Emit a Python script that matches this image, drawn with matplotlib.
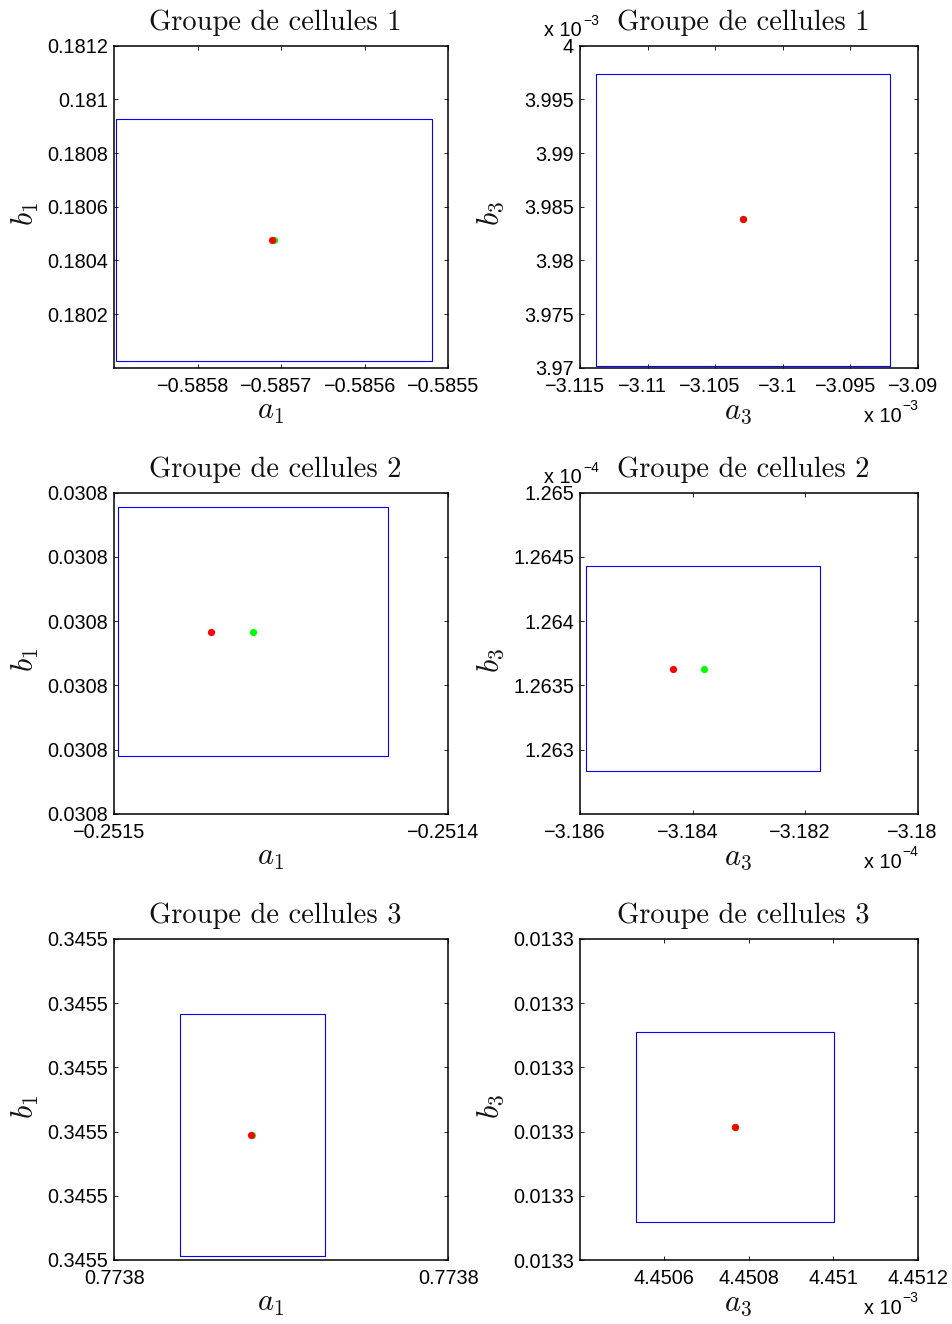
import matplotlib
matplotlib.use("Agg")
import matplotlib.pyplot as plt
from matplotlib.patches import Rectangle
from matplotlib.ticker import FixedLocator, FixedFormatter
from matplotlib.transforms import ScaledTranslation

plt.rcParams['mathtext.fontset'] = 'cm'
plt.rcParams['font.family'] = ['Liberation Sans', 'DejaVu Sans']

W, H = 952, 1324

# ---------------- data ----------------
titles = ["Groupe de cellules 1", "Groupe de cellules 1",
          "Groupe de cellules 2", "Groupe de cellules 2",
          "Groupe de cellules 3", "Groupe de cellules 3"]
xlabels = [r"$a_1$", r"$a_3$", r"$a_1$", r"$a_3$", r"$a_1$", r"$a_3$"]
ylabels = [r"$b_1$", r"$b_3$", r"$b_1$", r"$b_3$", r"$b_1$", r"$b_3$"]

# box: [xmin, xmax, ymin, ymax]
box_1_left = [-0.5858983, -0.5855192, 0.1800257, 0.1809260]
box_1_right = [-3.11383e-3, -3.09206e-3, 3.97019e-3, 3.99736e-3]
box_2_left = [-0.25149898, -0.25141814, 0.03077894, 0.03081777]
box_2_right = [-3.185888e-4, -3.18173e-4, 1.26283e-4, 1.264431e-4]
box_3_left = [0.7737758, 0.7738104, 0.34547067, 0.34550836]
box_3_right = [4.4505334e-3, 4.4510017e-3, 0.01326592, 0.01329551]

# red point (x, y), green point (x, y)
red_pts = [(-0.5857115, 0.1804763), (-3.10292e-3, 3.98381e-3),
           (-0.25147096, 0.0307983), (-3.184348e-4, 1.263629e-4),
           (0.77379274, 0.34548952), (4.4507665e-3, 0.01328072)]
green_pts = [(-0.5857091, 0.1804763), (-3.10292e-3, 3.98381e-3),
             (-0.25145847, 0.0307983), (-3.183802e-4, 1.263629e-4),
             (0.77379298, 0.34548952), (4.4507665e-3, 0.01328072)]

# axis limits
xlims = [(-0.5859, -0.5855), (-3.115e-3, -3.09e-3), (-0.2515, -0.2514),
         (-3.186e-4, -3.18e-4), (0.77376, 0.77384), (4.4504e-3, 4.4512e-3)]
ylims = [(0.1800, 0.1812), (3.97e-3, 4.0e-3), (0.03077, 0.03082),
         (1.2625e-4, 1.265e-4), (0.34547, 0.34552), (0.01326, 0.01331)]

# ticks and tick labels
xticks = [[-0.5858, -0.5857, -0.5856, -0.5855],
          [-3.115e-3, -3.11e-3, -3.105e-3, -3.1e-3, -3.095e-3, -3.09e-3],
          [-0.2515, -0.2514],
          [-3.186e-4, -3.184e-4, -3.182e-4, -3.18e-4],
          [0.77376, 0.77384],
          [4.4506e-3, 4.4508e-3, 4.451e-3, 4.4512e-3]]
xticklabels = [["\u22120.5858", "\u22120.5857", "\u22120.5856", "\u22120.5855"],
               ["\u22123.115", "\u22123.11", "\u22123.105", "\u22123.1", "\u22123.095", "\u22123.09"],
               ["\u22120.2515", "\u22120.2514"],
               ["\u22123.186", "\u22123.184", "\u22123.182", "\u22123.18"],
               ["0.7738", "0.7738"],
               ["4.4506", "4.4508", "4.451", "4.4512"]]
yticks = [[0.1802, 0.1804, 0.1806, 0.1808, 0.1810, 0.1812],
          [3.97e-3, 3.975e-3, 3.98e-3, 3.985e-3, 3.99e-3, 3.995e-3, 4.0e-3],
          [0.03077, 0.03078, 0.03079, 0.03080, 0.03081, 0.03082],
          [1.263e-4, 1.2635e-4, 1.264e-4, 1.2645e-4, 1.265e-4],
          [0.34547, 0.34548, 0.34549, 0.34550, 0.34551, 0.34552],
          [0.01326, 0.01327, 0.01328, 0.01329, 0.01330, 0.01331]]
yticklabels = [["0.1802", "0.1804", "0.1806", "0.1808", "0.181", "0.1812"],
               ["3.97", "3.975", "3.98", "3.985", "3.99", "3.995", "4"],
               ["0.0308"] * 6,
               ["1.263", "1.2635", "1.264", "1.2645", "1.265"],
               ["0.3455"] * 6,
               ["0.0133"] * 6]
# multiplier shown as "x 10^e" : (x exponent, y exponent)
x_exp = [None, -3, None, -4, None, -3]
y_exp = [None, -3, None, -4, None, None]

boxes = [box_1_left, box_1_right, box_2_left, box_2_right, box_3_left, box_3_right]

# ---------------- layout (pixels) ----------------
col_lr = [(114.3, 448.3), (580.0, 917.7)]
row_tb = [(45.7, 367.7), (492.7, 813.7), (939.0, 1260.0)]

fig = plt.figure(figsize=(W / 100, H / 100), dpi=100)
fig.patch.set_facecolor('white')

TICK_FS = 14.3


def fx(px):
    return px / W


def fy(py):
    return 1 - py / H


for i in range(6):
    r, c = divmod(i, 2)
    l, rr = col_lr[c]
    t, b = row_tb[r]
    ax = fig.add_axes([fx(l), fy(b), (rr - l) / W, (b - t) / H])
    ax.set_xlim(*xlims[i])
    ax.set_ylim(*ylims[i])

    x0, x1, y0, y1 = boxes[i]
    ax.add_patch(Rectangle((x0, y0), x1 - x0, y1 - y0, fill=False,
                           edgecolor=(0, 0, 1), linewidth=0.8))
    ax.plot([green_pts[i][0]], [green_pts[i][1]], 'o', color=(0, 1, 0),
            markersize=5.2, markeredgewidth=0)
    ax.plot([red_pts[i][0]], [red_pts[i][1]], 'o', color=(1, 0, 0),
            markersize=5.2, markeredgewidth=0)

    ax.xaxis.set_major_locator(FixedLocator(xticks[i]))
    ax.xaxis.set_major_formatter(FixedFormatter(xticklabels[i]))
    ax.yaxis.set_major_locator(FixedLocator(yticks[i]))
    ax.yaxis.set_major_formatter(FixedFormatter(yticklabels[i]))
    ax.tick_params(direction='in', length=3.0, width=0.6, top=True, right=True,
                   labelsize=TICK_FS, colors='black')
    ax.tick_params(axis='x', pad=6.5)
    ax.tick_params(axis='y', pad=4.3)
    for s in ax.spines.values():
        s.set_linewidth(1.1)

    # negative x tick labels are centred on the digits (minus sign hangs left)
    for tk, lab in zip(ax.xaxis.get_major_ticks(), xticklabels[i]):
        if lab.startswith("\u2212"):
            tk.label1.set_transform(tk.label1.get_transform() +
                                    ScaledTranslation(-6 / 100, 0, fig.dpi_scale_trans))

    cx = (l + rr) / 2
    # title
    fig.text(fx(cx - 6), fy(t - 16), titles[i], family='cmr10', fontsize=20.5,
             ha='center', va='baseline', color='#111111')
    # x label
    fig.text(fx(cx - 11), fy(b + 43), xlabels[i], fontsize=22,
             ha='center', va='center', color='#111111')
    # y label
    fig.text(fx(l - 89), fy((t + b) / 2 + 7), ylabels[i], fontsize=22,
             ha='center', va='center', rotation=90, color='#111111')

    if x_exp[i] is not None:
        fig.text(fx(rr - 16), fy(b + 54), "x 10", fontsize=TICK_FS,
                 ha='right', va='baseline')
        fig.text(fx(rr - 15), fy(b + 42), "\u2212%d" % abs(x_exp[i]),
                 fontsize=10, ha='left', va='baseline')
    if y_exp[i] is not None:
        fig.text(fx(l + 2), fy(t - 10), "x 10", fontsize=TICK_FS,
                 ha='right', va='baseline')
        fig.text(fx(l + 3), fy(t - 21), "\u2212%d" % abs(y_exp[i]),
                 fontsize=10, ha='left', va='baseline')

fig.savefig("out.png", dpi=100, facecolor='white')
